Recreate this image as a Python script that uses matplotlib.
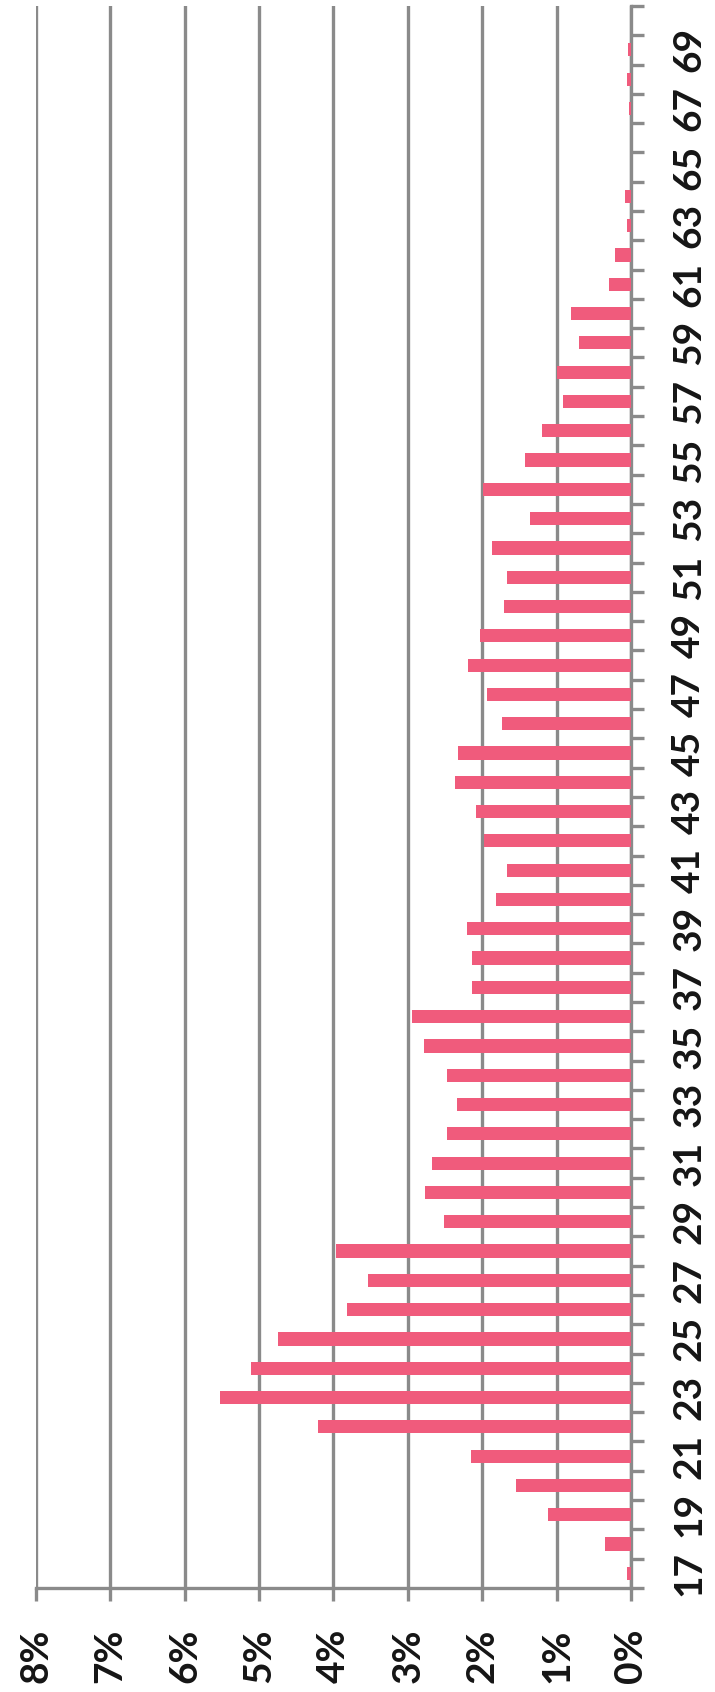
import matplotlib

matplotlib.use("Agg")
import matplotlib.pyplot as plt
from matplotlib.ticker import FixedLocator

# Share of people by age (percent)
ages = list(range(17, 71))
shares = [
    0.06, 0.35, 1.11, 1.55, 2.15, 4.21, 5.53, 5.11, 4.74, 3.82,  # 17-26
    3.54, 3.97, 2.51, 2.77, 2.67, 2.47, 2.34, 2.47, 2.78, 2.94,  # 27-36
    2.14, 2.14, 2.20, 1.82, 1.67, 1.98, 2.08, 2.37, 2.33, 1.73,  # 37-46
    1.94, 2.19, 2.03, 1.70, 1.67, 1.87, 1.36, 1.99, 1.42, 1.20,  # 47-56
    0.91, 1.00, 0.70, 0.80, 0.29, 0.21, 0.05, 0.08, 0.0, 0.0,    # 57-66
    0.03, 0.06, 0.04, 0.0,                                        # 67-70
]
pct_ticks = list(range(0, 9))
pct_labels = [f"{p}%" for p in pct_ticks]
age_ticks = list(range(17, 70, 2))

bar_color = "#f05b7c"
grid_color = "#8a8a8a"
text_color = "#151515"

plt.rcParams["font.family"] = ["Lato", "DejaVu Sans"]

fig = plt.figure(figsize=(7.15, 16.92), dpi=100)
ax = fig.add_axes([0.050, 0.0615, 0.8325, 0.935])

ax.barh(ages, shares, height=0.45, color=bar_color, zorder=3)

ax.set_xlim(8, 0)
ax.set_ylim(16.5, 70.5)

ax.grid(axis="x", color=grid_color, linewidth=2.4, zorder=1)
ax.set_axisbelow(True)

for side in ("left", "top"):
    ax.spines[side].set_visible(False)
for side in ("right", "bottom"):
    ax.spines[side].set_color(grid_color)
    ax.spines[side].set_linewidth(2.4)

ax.set_xticks(pct_ticks)
ax.set_xticklabels(pct_labels, rotation=90, fontsize=28, fontweight="bold",
                   color=text_color)
ax.tick_params(axis="x", length=9, width=2.4, color=grid_color, pad=20)

ax.yaxis.tick_right()
ax.set_yticks(age_ticks)
ax.set_yticklabels([str(a) for a in age_ticks], rotation=90, fontsize=28,
                   fontweight="bold", color=text_color, va="center")
ax.tick_params(axis="y", which="major", length=0, pad=29)
ax.yaxis.set_minor_locator(FixedLocator([a + 0.5 for a in range(16, 71)]))
ax.tick_params(axis="y", which="minor", length=9, width=2.4, color=grid_color)

fig.savefig("out.png", dpi=100)
plt.close(fig)
